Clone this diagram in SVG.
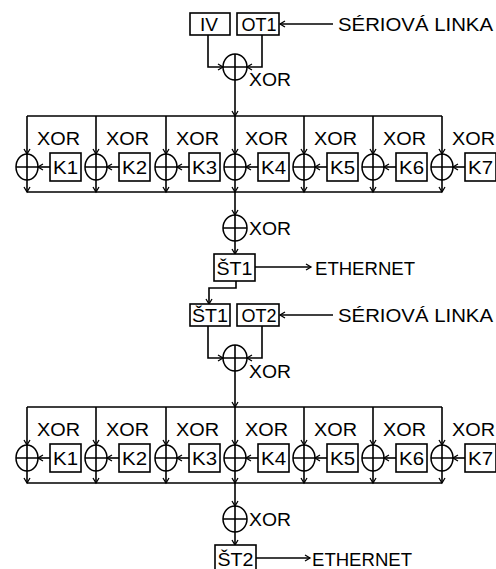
<svg xmlns="http://www.w3.org/2000/svg" width="496" height="569" viewBox="0 0 496 569">
<defs>
<marker id="a" markerUnits="userSpaceOnUse" markerWidth="8" markerHeight="8" refX="6" refY="4" orient="auto"><path d="M1,1 L6,4 L1,7" fill="none" stroke="#000" stroke-width="1.3"/></marker>
</defs>
<style>
.b{fill:#fff;stroke:#000;stroke-width:1.6}
.c{fill:none;stroke:#000;stroke-width:1.5}
.l{fill:none;stroke:#000;stroke-width:1.6}
.ar{fill:none;stroke:#000;stroke-width:1.6;marker-end:url(#a)}
text{font-family:"Liberation Sans",Arial,sans-serif;font-size:18px;fill:#000}
.m{text-anchor:middle;font-size:19px}
</style>
<rect width="496" height="569" fill="#fff"/>
<g id="connectors">
<path class="ar" d="M333,24 H280"/>
<path class="ar" d="M208,35 V67 H223"/>
<path class="ar" d="M262,35 V67 H247"/>
<path class="ar" d="M235,80 V116"/>
<path class="l" d="M27,116 H442 M27,192 H442"/>
<path class="ar" d="M27,116 V154"/><path class="ar" d="M27,180 V192"/>
<path class="ar" d="M96,116 V154"/><path class="ar" d="M96,180 V192"/>
<path class="ar" d="M166,116 V154"/><path class="ar" d="M166,180 V192"/>
<path class="ar" d="M235,116 V154"/><path class="ar" d="M235,180 V192"/>
<path class="ar" d="M304,116 V154"/><path class="ar" d="M304,180 V192"/>
<path class="ar" d="M373,116 V154"/><path class="ar" d="M373,180 V192"/>
<path class="ar" d="M442,116 V154"/><path class="ar" d="M442,180 V192"/>
<path class="ar" d="M50,167 H38"/><path class="ar" d="M119,167 H107"/><path class="ar" d="M189,167 H177"/><path class="ar" d="M258,167 H246"/><path class="ar" d="M327,167 H315"/><path class="ar" d="M396,167 H384"/><path class="ar" d="M465,167 H453"/>
<path class="ar" d="M235,192 V215"/>
<path class="ar" d="M235,241 V254"/>
<path class="ar" d="M255,267 H311"/>
<path class="ar" d="M236,281 V288 H209 V304"/>
<path class="ar" d="M333,315 H280"/>
<path class="ar" d="M208,326 V358 H223"/>
<path class="ar" d="M262,326 V358 H247"/>
<path class="ar" d="M235,371 V407"/>
<path class="l" d="M27,407 H442 M27,483 H442"/>
<path class="ar" d="M27,407 V445"/><path class="ar" d="M27,471 V483"/>
<path class="ar" d="M96,407 V445"/><path class="ar" d="M96,471 V483"/>
<path class="ar" d="M166,407 V445"/><path class="ar" d="M166,471 V483"/>
<path class="ar" d="M235,407 V445"/><path class="ar" d="M235,471 V483"/>
<path class="ar" d="M304,407 V445"/><path class="ar" d="M304,471 V483"/>
<path class="ar" d="M373,407 V445"/><path class="ar" d="M373,471 V483"/>
<path class="ar" d="M442,407 V445"/><path class="ar" d="M442,471 V483"/>
<path class="ar" d="M50,458 H38"/><path class="ar" d="M119,458 H107"/><path class="ar" d="M189,458 H177"/><path class="ar" d="M258,458 H246"/><path class="ar" d="M327,458 H315"/><path class="ar" d="M396,458 H384"/><path class="ar" d="M465,458 H453"/>
<path class="ar" d="M235,483 V506"/>
<path class="ar" d="M235,532 V545"/>
<path class="ar" d="M256,558 H310"/>
</g>
<g id="IV"><rect class="b" x="190" y="13" width="40" height="22"/><text class="m" x="209" y="31" textLength="18" lengthAdjust="spacingAndGlyphs">IV</text></g>
<g id="OT1"><rect class="b" x="237" y="13" width="42" height="22"/><text class="m" x="259" y="31" textLength="35" lengthAdjust="spacingAndGlyphs">OT1</text></g>
<g id="serial1"><text x="338" y="31" textLength="155" lengthAdjust="spacingAndGlyphs">SÉRIOVÁ LINKA</text></g>
<g id="xor0"><ellipse class="c" cx="235" cy="67" rx="12" ry="13"/><path class="l" d="M235,54 V80 M223,67 H247"/><text x="249" y="86" textLength="42" lengthAdjust="spacingAndGlyphs">XOR</text></g>
<g id="row1">
<g id="x1"><ellipse class="c" cx="27" cy="167" rx="11" ry="13"/><path class="l" d="M27,154 V180 M16,167 H38"/><text x="37" y="145" textLength="43" lengthAdjust="spacingAndGlyphs">XOR</text></g>
<g id="x2"><ellipse class="c" cx="96" cy="167" rx="11" ry="13"/><path class="l" d="M96,154 V180 M85,167 H107"/><text x="106" y="145" textLength="43" lengthAdjust="spacingAndGlyphs">XOR</text></g>
<g id="x3"><ellipse class="c" cx="166" cy="167" rx="11" ry="13"/><path class="l" d="M166,154 V180 M155,167 H177"/><text x="176" y="145" textLength="43" lengthAdjust="spacingAndGlyphs">XOR</text></g>
<g id="x4"><ellipse class="c" cx="235" cy="167" rx="11" ry="13"/><path class="l" d="M235,154 V180 M224,167 H246"/><text x="245" y="145" textLength="43" lengthAdjust="spacingAndGlyphs">XOR</text></g>
<g id="x5"><ellipse class="c" cx="304" cy="167" rx="11" ry="13"/><path class="l" d="M304,154 V180 M293,167 H315"/><text x="314" y="145" textLength="43" lengthAdjust="spacingAndGlyphs">XOR</text></g>
<g id="x6"><ellipse class="c" cx="373" cy="167" rx="11" ry="13"/><path class="l" d="M373,154 V180 M362,167 H384"/><text x="383" y="145" textLength="43" lengthAdjust="spacingAndGlyphs">XOR</text></g>
<g id="x7"><ellipse class="c" cx="442" cy="167" rx="11" ry="13"/><path class="l" d="M442,154 V180 M431,167 H453"/><text x="452" y="145" textLength="43" lengthAdjust="spacingAndGlyphs">XOR</text></g>
<g id="K1a"><rect class="b" x="50" y="153" width="31" height="28"/><text class="m" x="65.5" y="174" textLength="25" lengthAdjust="spacingAndGlyphs">K1</text></g>
<g id="K2a"><rect class="b" x="119" y="153" width="31" height="28"/><text class="m" x="134.5" y="174" textLength="25" lengthAdjust="spacingAndGlyphs">K2</text></g>
<g id="K3a"><rect class="b" x="189" y="153" width="31" height="28"/><text class="m" x="204.5" y="174" textLength="25" lengthAdjust="spacingAndGlyphs">K3</text></g>
<g id="K4a"><rect class="b" x="258" y="153" width="31" height="28"/><text class="m" x="273.5" y="174" textLength="25" lengthAdjust="spacingAndGlyphs">K4</text></g>
<g id="K5a"><rect class="b" x="327" y="153" width="31" height="28"/><text class="m" x="342.5" y="174" textLength="25" lengthAdjust="spacingAndGlyphs">K5</text></g>
<g id="K6a"><rect class="b" x="396" y="153" width="31" height="28"/><text class="m" x="411.5" y="174" textLength="25" lengthAdjust="spacingAndGlyphs">K6</text></g>
<g id="K7a"><rect class="b" x="465" y="153" width="31" height="28"/><text class="m" x="480.5" y="174" textLength="25" lengthAdjust="spacingAndGlyphs">K7</text></g>
</g>
<g id="xorMid1"><ellipse class="c" cx="235" cy="228" rx="12" ry="13"/><path class="l" d="M235,215 V241 M223,228 H247"/><text x="249" y="235" textLength="42" lengthAdjust="spacingAndGlyphs">XOR</text></g>
<g id="ST1a"><rect class="b" x="214" y="254" width="41" height="27"/><text class="m" x="234.5" y="275" textLength="36" lengthAdjust="spacingAndGlyphs">ŠT1</text></g>
<g id="eth1"><text x="315" y="275" textLength="100" lengthAdjust="spacingAndGlyphs">ETHERNET</text></g>
<g id="ST1b"><rect class="b" x="190" y="304" width="40" height="22"/><text class="m" x="210" y="322" textLength="36" lengthAdjust="spacingAndGlyphs">ŠT1</text></g>
<g id="OT2"><rect class="b" x="237" y="304" width="42" height="22"/><text class="m" x="259" y="322" textLength="35" lengthAdjust="spacingAndGlyphs">OT2</text></g>
<g id="serial2"><text x="338" y="322" textLength="155" lengthAdjust="spacingAndGlyphs">SÉRIOVÁ LINKA</text></g>
<g id="xor0b"><ellipse class="c" cx="235" cy="358" rx="12" ry="13"/><path class="l" d="M235,345 V371 M223,358 H247"/><text x="249" y="378" textLength="42" lengthAdjust="spacingAndGlyphs">XOR</text></g>
<g id="row2">
<g id="y1"><ellipse class="c" cx="27" cy="458" rx="11" ry="13"/><path class="l" d="M27,445 V471 M16,458 H38"/><text x="37" y="436" textLength="43" lengthAdjust="spacingAndGlyphs">XOR</text></g>
<g id="y2"><ellipse class="c" cx="96" cy="458" rx="11" ry="13"/><path class="l" d="M96,445 V471 M85,458 H107"/><text x="106" y="436" textLength="43" lengthAdjust="spacingAndGlyphs">XOR</text></g>
<g id="y3"><ellipse class="c" cx="166" cy="458" rx="11" ry="13"/><path class="l" d="M166,445 V471 M155,458 H177"/><text x="176" y="436" textLength="43" lengthAdjust="spacingAndGlyphs">XOR</text></g>
<g id="y4"><ellipse class="c" cx="235" cy="458" rx="11" ry="13"/><path class="l" d="M235,445 V471 M224,458 H246"/><text x="245" y="436" textLength="43" lengthAdjust="spacingAndGlyphs">XOR</text></g>
<g id="y5"><ellipse class="c" cx="304" cy="458" rx="11" ry="13"/><path class="l" d="M304,445 V471 M293,458 H315"/><text x="314" y="436" textLength="43" lengthAdjust="spacingAndGlyphs">XOR</text></g>
<g id="y6"><ellipse class="c" cx="373" cy="458" rx="11" ry="13"/><path class="l" d="M373,445 V471 M362,458 H384"/><text x="383" y="436" textLength="43" lengthAdjust="spacingAndGlyphs">XOR</text></g>
<g id="y7"><ellipse class="c" cx="442" cy="458" rx="11" ry="13"/><path class="l" d="M442,445 V471 M431,458 H453"/><text x="452" y="436" textLength="43" lengthAdjust="spacingAndGlyphs">XOR</text></g>
<g id="K1b"><rect class="b" x="50" y="444" width="31" height="28"/><text class="m" x="65.5" y="465" textLength="25" lengthAdjust="spacingAndGlyphs">K1</text></g>
<g id="K2b"><rect class="b" x="119" y="444" width="31" height="28"/><text class="m" x="134.5" y="465" textLength="25" lengthAdjust="spacingAndGlyphs">K2</text></g>
<g id="K3b"><rect class="b" x="189" y="444" width="31" height="28"/><text class="m" x="204.5" y="465" textLength="25" lengthAdjust="spacingAndGlyphs">K3</text></g>
<g id="K4b"><rect class="b" x="258" y="444" width="31" height="28"/><text class="m" x="273.5" y="465" textLength="25" lengthAdjust="spacingAndGlyphs">K4</text></g>
<g id="K5b"><rect class="b" x="327" y="444" width="31" height="28"/><text class="m" x="342.5" y="465" textLength="25" lengthAdjust="spacingAndGlyphs">K5</text></g>
<g id="K6b"><rect class="b" x="396" y="444" width="31" height="28"/><text class="m" x="411.5" y="465" textLength="25" lengthAdjust="spacingAndGlyphs">K6</text></g>
<g id="K7b"><rect class="b" x="465" y="444" width="31" height="28"/><text class="m" x="480.5" y="465" textLength="25" lengthAdjust="spacingAndGlyphs">K7</text></g>
</g>
<g id="xorMid2"><ellipse class="c" cx="235" cy="519" rx="12" ry="13"/><path class="l" d="M235,506 V532 M223,519 H247"/><text x="249" y="526" textLength="42" lengthAdjust="spacingAndGlyphs">XOR</text></g>
<g id="ST2"><rect class="b" x="215" y="545" width="41" height="27"/><text class="m" x="235.5" y="566" textLength="36" lengthAdjust="spacingAndGlyphs">ŠT2</text></g>
<g id="eth2"><text x="312" y="566" textLength="100" lengthAdjust="spacingAndGlyphs">ETHERNET</text></g>
</svg>
